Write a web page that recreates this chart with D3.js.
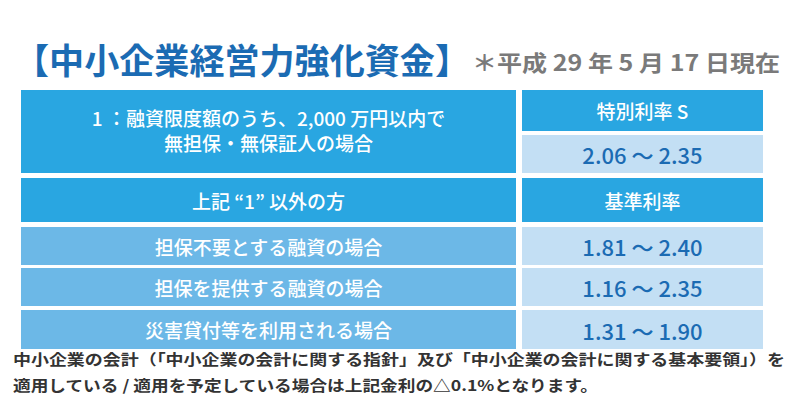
<!DOCTYPE html>
<html><head><meta charset="utf-8">
<script src="https://cdn.jsdelivr.net/npm/d3@7"></script>
<style>body{margin:0;background:#fff}text{font-family:"Noto Sans CJK JP",sans-serif;font-weight:bold}</style>
</head><body><div id="chart"></div>
<script>
const title = "【中小企業経営力強化資金】"
const asOf = "＊平成 29 年 5 月 17 日現在"
const headLabel1 = ["1 ：融資限度額のうち、2,000 万円以内で", "無担保・無保証人の場合"]
const headRate1 = "特別利率 S"
const value1 = "2.06 ～ 2.35"
const headLabel2 = "上記 “1” 以外の方"
const headRate2 = "基準利率"
const caseLabels = ["担保不要とする融資の場合", "担保を提供する融資の場合", "災害貸付等を利用される場合"]
const caseValues = ["1.81 ～ 2.40", "1.16 ～ 2.35", "1.31 ～ 1.90"]
const notes = ["中小企業の会計（「中小企業の会計に関する指針」及び「中小企業の会計に関する基本要領」）を",
  "適用している / 適用を予定している場合は上記金利の△0.1%となります。"]

const W = 800, H = 417
const svg = d3.select("#chart").append("svg").attr("width", W).attr("height", H)

const x = d3.scaleOrdinal().domain(["label", "rate"]).range([21, 522])
const cw = { label: 495, rate: 241 }

const slotY = d3.scaleOrdinal().domain(["r1a", "r1b", "r2", ...caseLabels])
  .range([90, 135, 178, 227, 268, 310])
const slotH = d3.scaleOrdinal().domain(["r1a", "r1b", "r2", ...caseLabels])
  .range([41, 38, 44, 38, 38, 39])

const DARK = "#29a6e1", MID = "#6cb8e7", PALE = "#c3dff4", BLUE = "#1b6bb3"

function cell(col, y, h, fill) {
  svg.append("rect").attr("x", x(col)).attr("y", y).attr("width", cw[col]).attr("height", h).attr("fill", fill)
}
function label(col, y, txt, color, size, weight) {
  svg.append("text").attr("x", x(col) + cw[col] / 2).attr("y", y).attr("text-anchor", "middle")
    .attr("dominant-baseline", "central").attr("fill", color).attr("font-size", size)
    .style("font-weight", weight || "bold").text(txt)
}

svg.append("text").attr("x", 14).attr("y", 74).attr("fill", BLUE).attr("font-size", 35)
  .attr("textLength", 456).attr("lengthAdjust", "spacingAndGlyphs").text(title)
svg.append("text").attr("x", 472).attr("y", 71).attr("fill", "#7a7a7a").attr("font-size", 22)
  .attr("textLength", 308).attr("lengthAdjust", "spacingAndGlyphs").text(asOf)

cell("label", slotY("r1a"), slotY("r1b") + slotH("r1b") - slotY("r1a"), DARK)
headLabel1.forEach((t, i) => label("label", 117 + i * 25, t, "#fff", 19, 500))
cell("rate", slotY("r1a"), slotH("r1a"), DARK)
label("rate", slotY("r1a") + slotH("r1a") / 2, headRate1, "#fff", 19, 500)
cell("rate", slotY("r1b"), slotH("r1b"), PALE)
label("rate", slotY("r1b") + slotH("r1b") / 2, value1, BLUE, 22, 500)

cell("label", slotY("r2"), slotH("r2"), DARK)
label("label", slotY("r2") + slotH("r2") / 2, headLabel2, "#fff", 19, 500)
cell("rate", slotY("r2"), slotH("r2"), DARK)
label("rate", slotY("r2") + slotH("r2") / 2, headRate2, "#fff", 19, 500)

caseLabels.forEach((c, i) => {
  const y = slotY(c), h = slotH(c)
  cell("label", y, h, MID)
  label("label", y + h / 2, c, "#fff", 19, 500)
  cell("rate", y, h, PALE)
  label("rate", y + h / 2, caseValues[i], BLUE, 22, 500)
})

notes.forEach((t, i) => {
  svg.append("text").attr("x", 13).attr("y", 365 + i * 26).attr("fill", "#333").attr("font-size", 15)
    .attr("textLength", i === 0 ? 772 : 585).attr("lengthAdjust", "spacingAndGlyphs").text(t)
})
</script></body></html>
